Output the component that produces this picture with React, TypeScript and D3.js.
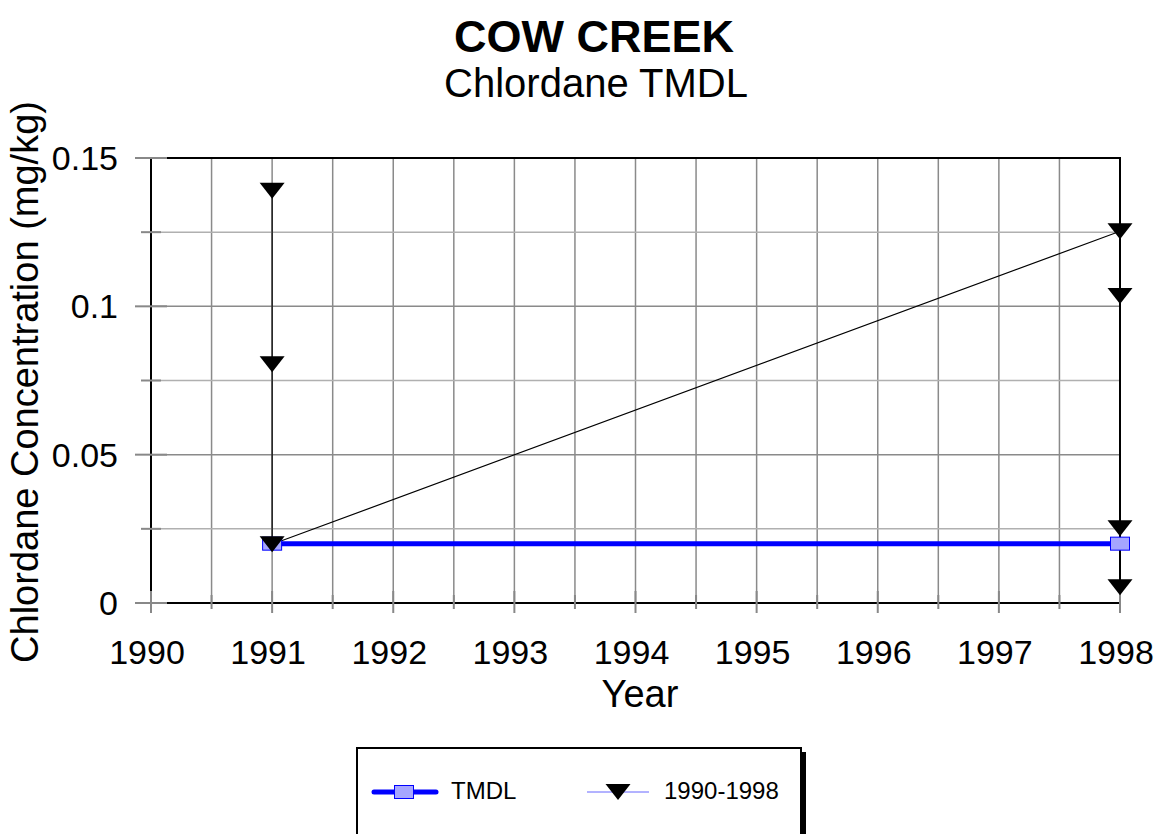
import { useRef, useEffect } from 'react';
import * as d3 from 'd3';

const TMDL_YEARS = [1991, 1998];
const TMDL_VALUES = [0.02, 0.02];

const OBS_YEARS = [1991, 1991, 1991, 1998, 1998, 1998, 1998];
const OBS_VALUES = [0.139, 0.0805, 0.0198, 0.1253, 0.1035, 0.0252, 0.0053];

const X_TICKS = [1990, 1991, 1992, 1993, 1994, 1995, 1996, 1997, 1998];
const Y_TICKS = [0, 0.05, 0.1, 0.15];
const Y_TICK_LABELS = ['0', '0.05', '0.1', '0.15'];

const FONT = 'Arial, "Liberation Sans", sans-serif';

export default function App() {
  const svgRef = useRef<SVGSVGElement>(null);

  useEffect(() => {
    if (!svgRef.current) return;
    const width = 1154;
    const height = 834;
    const svg = d3.select(svgRef.current);
    svg.selectAll('*').remove();

    const x = d3.scaleLinear().domain([1990, 1998]).range([151, 1120]);
    const y = d3.scaleLinear().domain([0, 0.15]).range([603, 158]);
    const [x0, x1] = x.range();
    const [y0, y1] = y.range();

    svg.append('rect').attr('width', width).attr('height', height).attr('fill', 'white');

    // Grid: half-year verticals, 0.025 horizontals
    const halfYears = d3.range(1990.5, 1998, 0.5);
    svg.append('g')
      .selectAll('line')
      .data(halfYears)
      .join('line')
      .attr('x1', d => x(d)).attr('x2', d => x(d))
      .attr('y1', y1).attr('y2', y0)
      .attr('stroke', '#8a8a8a').attr('stroke-width', 1.5);

    const quarterY = d3.range(0.025, 0.15, 0.025);
    svg.append('g')
      .selectAll('line')
      .data(quarterY)
      .join('line')
      .attr('x1', x0).attr('x2', x1)
      .attr('y1', d => y(d)).attr('y2', d => y(d))
      .attr('stroke', (_, i) => (i % 2 === 1 ? '#8a8a8a' : '#b0b0b0'))
      .attr('stroke-width', 1.5);

    // Frame
    svg.append('rect')
      .attr('x', x0).attr('y', y1)
      .attr('width', x1 - x0).attr('height', y0 - y1)
      .attr('fill', 'none').attr('stroke', '#000').attr('stroke-width', 2);

    // Y ticks (crossing the axis)
    svg.append('g')
      .selectAll('line')
      .data(d3.range(0, 0.1501, 0.025))
      .join('line')
      .attr('x1', (_, i) => (i % 2 === 0 ? x0 - 16 : x0 - 10))
      .attr('x2', (_, i) => (i % 2 === 0 ? x0 + 16 : x0 + 10))
      .attr('y1', d => y(d)).attr('y2', d => y(d))
      .attr('stroke', '#888').attr('stroke-width', 2);

    // X ticks
    svg.append('g')
      .selectAll('line')
      .data(d3.range(1990, 1998.01, 0.5))
      .join('line')
      .attr('x1', d => x(d)).attr('x2', d => x(d))
      .attr('y1', (_, i) => (i % 2 === 0 ? y0 - 12 : y0 - 8))
      .attr('y2', (_, i) => (i % 2 === 0 ? y0 + 10 : y0 + 6))
      .attr('stroke', '#888').attr('stroke-width', 2);

    // Tick labels
    svg.append('g')
      .selectAll('text')
      .data(Y_TICKS)
      .join('text')
      .attr('x', x0 - 33)
      .attr('y', d => y(d) + 12)
      .attr('text-anchor', 'end')
      .attr('font-family', FONT).attr('font-size', 34).attr('fill', '#000')
      .text((_, i) => Y_TICK_LABELS[i]);

    svg.append('g')
      .selectAll('text')
      .data(X_TICKS)
      .join('text')
      .attr('x', d => x(d) - 4)
      .attr('y', y0 + 61)
      .attr('text-anchor', 'middle')
      .attr('font-family', FONT).attr('font-size', 34).attr('fill', '#000')
      .text(d => String(d));

    // Observed series line
    const obs = OBS_YEARS.map((yr, i) => [yr, OBS_VALUES[i]] as [number, number]);
    const line = d3.line<[number, number]>().x(d => x(d[0])).y(d => y(d[1]));
    svg.append('path')
      .datum(obs)
      .attr('d', line)
      .attr('fill', 'none').attr('stroke', '#000').attr('stroke-width', 1.2);

    // TMDL line
    const tmdl = TMDL_YEARS.map((yr, i) => [yr, TMDL_VALUES[i]] as [number, number]);
    svg.append('path')
      .datum(tmdl)
      .attr('d', line)
      .attr('fill', 'none').attr('stroke', '#0000ff').attr('stroke-width', 5);
    svg.append('g')
      .selectAll('rect')
      .data(tmdl)
      .join('rect')
      .attr('x', d => x(d[0]) - 9.5).attr('y', d => y(d[1]) - 6.5)
      .attr('width', 19).attr('height', 13)
      .attr('fill', '#a6a6ff').attr('stroke', '#0000ff').attr('stroke-width', 1);

    // Triangle markers
    const tri = (cx: number, cy: number) =>
      `M${cx - 12.5},${cy - 8} L${cx + 12.5},${cy - 8} L${cx},${cy + 8} Z`;
    svg.append('g')
      .selectAll('path')
      .data(obs)
      .join('path')
      .attr('d', d => tri(x(d[0]), y(d[1])))
      .attr('fill', '#000');

    // Titles
    svg.append('text')
      .attr('x', 594).attr('y', 52)
      .attr('text-anchor', 'middle')
      .attr('font-family', FONT).attr('font-size', 45).attr('font-weight', 'bold')
      .text('COW CREEK');
    svg.append('text')
      .attr('x', 596).attr('y', 97)
      .attr('text-anchor', 'middle')
      .attr('font-family', FONT).attr('font-size', 40)
      .text('Chlordane TMDL');
    svg.append('text')
      .attr('x', 640).attr('y', 707)
      .attr('text-anchor', 'middle')
      .attr('font-family', FONT).attr('font-size', 38)
      .text('Year');
    svg.append('text')
      .attr('transform', 'translate(38,382) rotate(-90)')
      .attr('text-anchor', 'middle')
      .attr('font-family', FONT).attr('font-size', 38)
      .text('Chlordane Concentration (mg/kg)');

    // Legend
    const lg = svg.append('g');
    lg.append('rect')
      .attr('x', 362).attr('y', 752).attr('width', 444).attr('height', 100)
      .attr('fill', '#000');
    lg.append('rect')
      .attr('x', 357).attr('y', 748).attr('width', 444).attr('height', 100)
      .attr('fill', '#fff').attr('stroke', '#000').attr('stroke-width', 2);
    lg.append('line')
      .attr('x1', 374).attr('x2', 436).attr('y1', 792).attr('y2', 792)
      .attr('stroke', '#0000ff').attr('stroke-width', 5).attr('stroke-linecap', 'round');
    lg.append('rect')
      .attr('x', 394.5).attr('y', 785.5).attr('width', 19).attr('height', 13)
      .attr('fill', '#a6a6ff').attr('stroke', '#0000ff').attr('stroke-width', 1);
    lg.append('text')
      .attr('x', 451).attr('y', 799)
      .attr('font-family', FONT).attr('font-size', 24)
      .text('TMDL');
    lg.append('line')
      .attr('x1', 587).attr('x2', 649).attr('y1', 792).attr('y2', 792)
      .attr('stroke', '#6666ff').attr('stroke-width', 1);
    lg.append('path')
      .attr('d', tri(618, 792))
      .attr('fill', '#000');
    lg.append('text')
      .attr('x', 664).attr('y', 799)
      .attr('font-family', FONT).attr('font-size', 24)
      .text('1990-1998');
  }, []);

  return (
    <svg
      ref={svgRef}
      width={1154}
      height={834}
      style={{ position: 'absolute', left: 0, top: 0, display: 'block' }}
    />
  );
}
